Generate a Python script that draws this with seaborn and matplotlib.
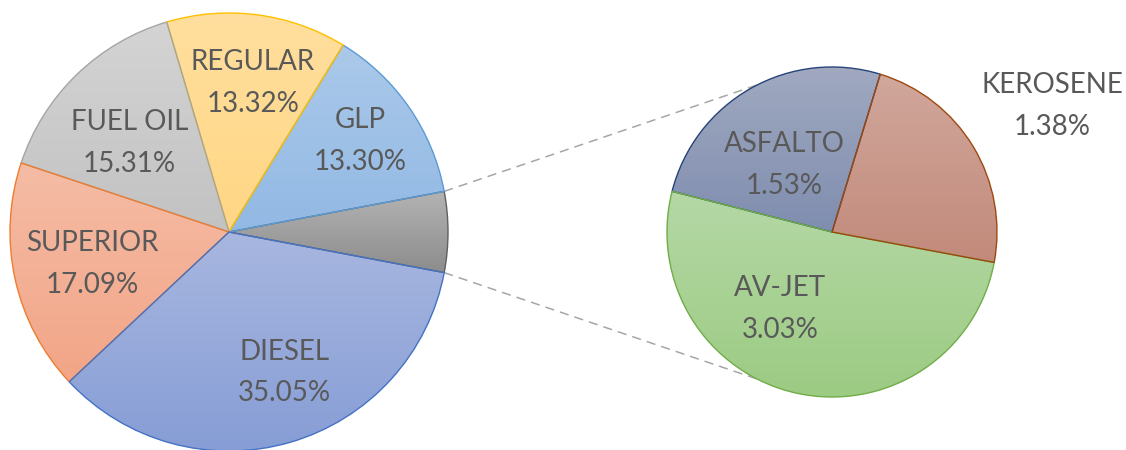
import numpy as np
import matplotlib
matplotlib.use("Agg")
import matplotlib.pyplot as plt
from matplotlib.colors import LinearSegmentedColormap
import seaborn as sns

# main pie (the first slice is the group that gets split out)
main_names = ["OTROS", "GLP", "REGULAR", "FUEL OIL", "SUPERIOR", "DIESEL"]
main_vals = [5.94, 13.30, 13.32, 15.31, 17.09, 35.05]

# secondary pie
sub_names = ["ASFALTO", "AV-JET", "KEROSENE"]
sub_vals = [1.53, 3.03, 1.38]

# styling: (top colour, bottom colour, edge colour)
main_style = [("#b3b3b3", "#8c8c8c", "#5f5f5f"),
              ("#abc9ea", "#92b9e4", "#5b9bd5"),
              ("#ffdf9e", "#ffd684", "#ffc000"),
              ("#d4d4d4", "#c2c2c2", "#a5a5a5"),
              ("#f5bca5", "#f2a587", "#ed7d31"),
              ("#a8b7e0", "#869dd5", "#4472c4")]
sub_style = [("#a0a9c0", "#7f8daf", "#264478"),
             ("#b5d8a6", "#9ccb83", "#70ad47"),
             ("#d1a79c", "#c28a7b", "#9e480e")]

# label placement: (radial fraction, angle shift from wedge middle)
main_lab = [None, (0.73, 0), (0.69, -1.6), (0.61, 4.2), (0.64, 0.8), (0.69, 5.4)]
sub_lab = [(0.50, 6), (0.56, -21.5), (1.54, -1.4)]

sns.set_theme(style="white")
plt.rcParams["font.family"] = ["Lato", "DejaVu Sans"]

fig = plt.figure(figsize=(11.26, 4.5), dpi=100)
ax = fig.add_axes([0, 0, 1, 1])

c_main, r_main = (229, 218), 219
c_sub, r_sub = (832, 218), 165


def shade(wedges, style):
    grad = np.linspace(0, 1, 256).reshape(-1, 1)
    for w, (top, bottom, edge) in zip(wedges, style):
        w.set_facecolor("none")
        w.set_edgecolor(edge)
        w.set_linewidth(1.0)
        w.set_zorder(3)
        bb = w.get_path().get_extents()
        cmap = LinearSegmentedColormap.from_list("g", [top, bottom])
        im = ax.imshow(grad, cmap=cmap, extent=(bb.x0, bb.x1, bb.y0, bb.y1),
                       origin="upper", aspect="auto", zorder=2)
        im.set_clip_path(w)


def labels(wedges, names, vals, lab, center):
    for w, n, v, l in zip(wedges, names, vals, lab):
        if l is None:
            continue
        ang = np.deg2rad((w.theta1 + w.theta2) / 2 + l[1])
        x = center[0] + w.r * l[0] * np.cos(ang)
        y = center[1] + w.r * l[0] * np.sin(ang)
        ax.text(x, y, f"{n}\n{v:.2f}%", ha="center", va="center",
                multialignment="center", fontsize=20, color="#595959",
                linespacing=1.75, zorder=5)


start = -180 * main_vals[0] / sum(main_vals)
w_main, _ = ax.pie(main_vals, startangle=start, counterclock=True,
                   center=c_main, radius=r_main)
w_sub, _ = ax.pie(sub_vals, startangle=73, counterclock=True,
                  center=c_sub, radius=r_sub)
shade(w_main, main_style)
shade(w_sub, sub_style)
labels(w_main, main_names, main_vals, main_lab, c_main)
labels(w_sub, sub_names, sub_vals, sub_lab, c_sub)

# connector lines between the split slice and the secondary pie
other = w_main[0]
for th_m, th_s in [(other.theta2, 117), (other.theta1, -117)]:
    p0 = (c_main[0] + r_main * np.cos(np.deg2rad(th_m)),
          c_main[1] + r_main * np.sin(np.deg2rad(th_m)))
    p1 = (c_sub[0] + r_sub * np.cos(np.deg2rad(th_s)),
          c_sub[1] + r_sub * np.sin(np.deg2rad(th_s)))
    ax.plot([p0[0], p1[0]], [p0[1], p1[1]], color="#a6a6a6", lw=1.1,
            linestyle=(0, (6, 4)), zorder=1)

ax.set_xlim(0, 1126)
ax.set_ylim(0, 450)
ax.set_aspect("equal")
ax.axis("off")

fig.savefig("out.png", dpi=100, facecolor="white")
